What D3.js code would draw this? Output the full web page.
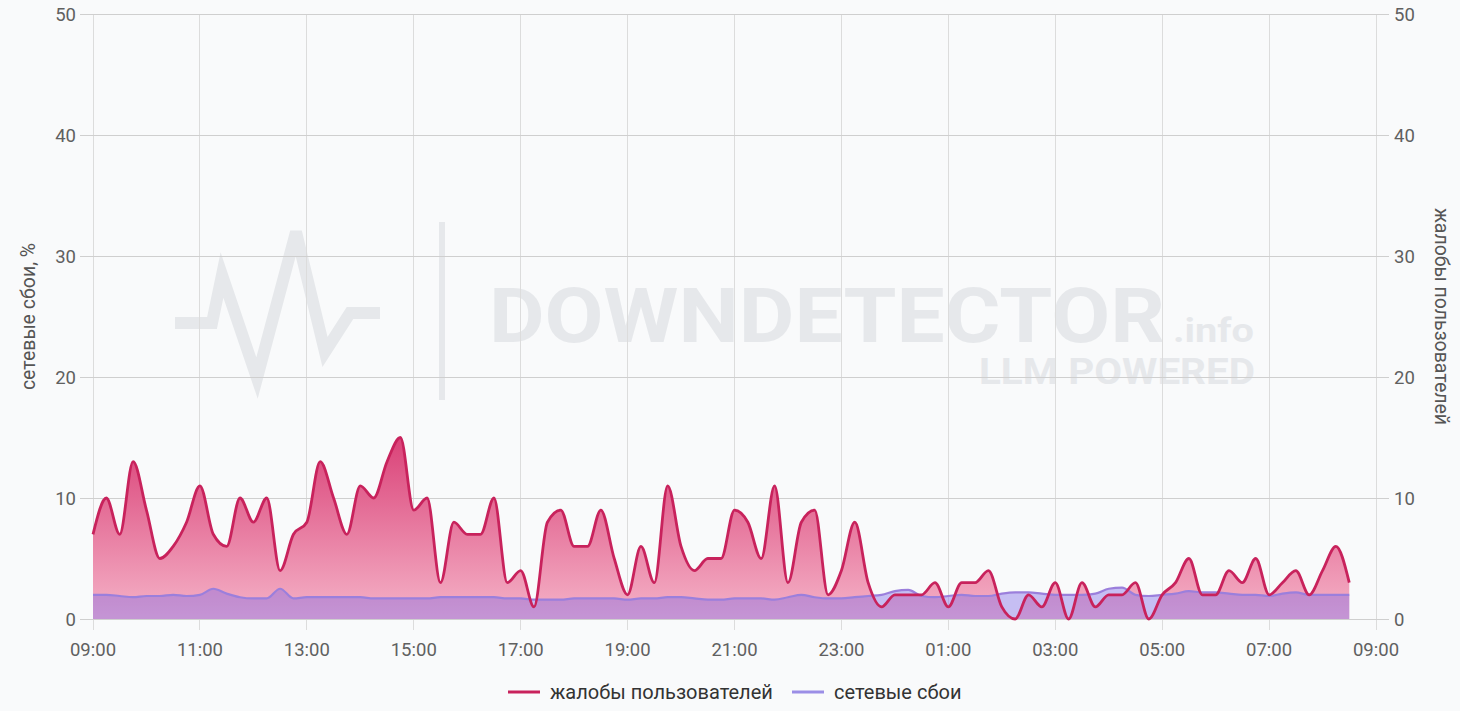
<!DOCTYPE html>
<html>
<head>
<meta charset="utf-8">
<script src="https://cdn.jsdelivr.net/npm/d3@7"></script>
<style>
  html, body { margin: 0; padding: 0; background: #f9fafb; }
  svg { display: block; font-family: Roboto, Arial, sans-serif; }
</style>
</head>
<body>
<div id="chart"></div>
<script>
// data: 15-minute samples starting 09:00
const startTime = new Date(2024, 0, 1, 9, 0);
const endTime = new Date(2024, 0, 2, 9, 0);
const stepMinutes = 15;

const complaints = [
  7, 10, 7, 13, 9, 5, 6, 8, 11, 7, 6, 10, 8, 10, 4, 7, 8, 13, 10, 7,
  11, 10, 13, 15, 9, 10, 3, 8, 7, 7, 10, 3, 4, 1, 8, 9, 6, 6, 9, 5,
  2, 6, 3, 11, 6, 4, 5, 5, 9, 8, 5, 11, 3, 8, 9, 2, 4, 8, 3, 1,
  2, 2, 2, 3, 1, 3, 3, 4, 1, 0, 2, 1, 3, 0, 3, 1, 2, 2, 3, 0,
  2, 3, 5, 2, 2, 4, 3, 5, 2, 3, 4, 2, 4, 6, 3
];
const outages = [
  2.0, 2.0, 1.9, 1.8, 1.9, 1.9, 2.0, 1.9, 2.0,
  2.5, 2.1, 1.8, 1.7, 1.7, 2.5, 1.7, 1.8, 1.8, 1.8, 1.8, 1.8, 1.7, 1.7, 1.7,
  1.7, 1.7, 1.8, 1.8, 1.8, 1.8, 1.8, 1.7, 1.7, 1.6,
  1.6, 1.6, 1.7, 1.7, 1.7, 1.7, 1.6, 1.7, 1.7, 1.8, 1.8, 1.7, 1.6, 1.6,
  1.7, 1.7, 1.7, 1.6, 1.8, 2.0, 1.8, 1.7, 1.7, 1.8, 1.9,
  2.0, 2.3, 2.4, 1.9, 1.8, 1.9, 2.0, 1.9, 1.9, 2.1, 2.2, 2.2,
  2.1, 2.0, 2.0, 2.0, 2.1, 2.5, 2.6, 2.0, 1.9, 2.0, 2.1,
  2.3, 2.2, 2.2, 2.1, 2.0, 2.0, 1.9, 2.1, 2.2, 2.0, 2.0, 2.0, 2.0
];
const yTicks = [0, 10, 20, 30, 40, 50];
const xTickHours = [0, 2, 4, 6, 8, 10, 12, 14, 16, 18, 20, 22, 24];
const leftTitle = "сетевые сбои, %";
const rightTitle = "жалобы пользователей";
const legendItems = [
  { label: "жалобы пользователей", color: "#c8225c" },
  { label: "сетевые сбои", color: "#9b8ee6" }
];

const width = 1460, height = 711;
const margin = { top: 14, right: 84, bottom: 92, left: 93 };

const svg = d3.select("#chart").append("svg")
  .attr("width", width)
  .attr("height", height);

const x = d3.scaleTime()
  .domain([startTime, endTime])
  .range([margin.left, width - margin.right]);
const y = d3.scaleLinear()
  .domain([0, 50])
  .range([height - margin.bottom, margin.top]);

const times = complaints.map((d, i) => d3.timeMinute.offset(startTime, i * stepMinutes));
const xTicks = xTickHours.map(h => d3.timeHour.offset(startTime, h));

/*
Watermark
*/
const wmColor = "#e6e8eb";
const wm = svg.append("g").attr("fill", wmColor);
wm.append("polyline")
  .attr("points", "175,323 212,323 222,275 257,378 296,232 325,352 350,313 380,313")
  .attr("fill", "none")
  .attr("stroke", wmColor)
  .attr("stroke-width", 12)
  .attr("stroke-linejoin", "miter");
wm.append("rect").attr("x", 439).attr("y", 222).attr("width", 6).attr("height", 178);
const wmText = wm.append("text").attr("font-weight", 700);
wmText.append("tspan")
  .attr("x", 489).attr("y", 342)
  .attr("font-size", 76)
  .attr("textLength", 676).attr("lengthAdjust", "spacingAndGlyphs")
  .text("DOWNDETECTOR");
wmText.append("tspan")
  .attr("x", 1173).attr("y", 342)
  .attr("font-size", 34)
  .attr("textLength", 81).attr("lengthAdjust", "spacingAndGlyphs")
  .text(".info");
wmText.append("tspan")
  .attr("x", 979).attr("y", 384)
  .attr("font-size", 37)
  .attr("textLength", 276).attr("lengthAdjust", "spacingAndGlyphs")
  .text("LLM POWERED");

/*
Grid
*/
svg.append("g").selectAll("line")
  .data(xTicks)
  .join("line")
  .attr("x1", d => x(d)).attr("x2", d => x(d))
  .attr("y1", margin.top).attr("y2", height - margin.bottom + 11)
  .attr("stroke", "#dcdcdc")
  .attr("stroke-width", 1)
  .attr("shape-rendering", "crispEdges");
svg.append("g").selectAll("line")
  .data(yTicks)
  .join("line")
  .attr("x1", margin.left - 13).attr("x2", width - margin.right + 13)
  .attr("y1", d => y(d)).attr("y2", d => y(d))
  .attr("stroke", "#cfcfcf")
  .attr("stroke-width", 1)
  .attr("shape-rendering", "crispEdges");

/*
Areas
*/
const defs = svg.append("defs");
const grad = defs.append("linearGradient")
  .attr("id", "pinkFill")
  .attr("gradientUnits", "userSpaceOnUse")
  .attr("x1", 0).attr("x2", 0)
  .attr("y1", y(d3.max(complaints))).attr("y2", y(0));
grad.append("stop").attr("offset", "0%").attr("stop-color", "#da4278");
grad.append("stop").attr("offset", "100%").attr("stop-color", "#f5b3c8");

const curve = d3.curveMonotoneX;
const area = vals => d3.area()
  .x((d, i) => x(times[i]))
  .y0(y(0))
  .y1(d => y(d))
  .curve(curve)(vals);
const line = vals => d3.line()
  .x((d, i) => x(times[i]))
  .y(d => y(d))
  .curve(curve)(vals);

svg.append("path")
  .attr("d", area(complaints))
  .attr("fill", "url(#pinkFill)");
svg.append("path")
  .attr("d", area(outages))
  .attr("fill", "rgba(128,108,232,0.42)");
svg.append("path")
  .attr("d", line(outages))
  .attr("fill", "none")
  .attr("stroke", "#9b7fdc")
  .attr("stroke-width", 2.2);
svg.append("path")
  .attr("d", line(complaints))
  .attr("fill", "none")
  .attr("stroke", "#c8225c")
  .attr("stroke-width", 2.8)
  .attr("stroke-linejoin", "round");

/*
Axes labels
*/
const tickStyle = sel => sel
  .attr("font-size", 18.5)
  .attr("fill", "#606060");
svg.append("g").selectAll("text")
  .data(yTicks)
  .join("text")
  .attr("x", margin.left - 17)
  .attr("y", d => y(d) + 7)
  .attr("text-anchor", "end")
  .call(tickStyle)
  .text(d => d);
svg.append("g").selectAll("text")
  .data(yTicks)
  .join("text")
  .attr("x", width - margin.right + 18)
  .attr("y", d => y(d) + 7)
  .attr("text-anchor", "start")
  .call(tickStyle)
  .text(d => d);
svg.append("g").selectAll("text")
  .data(xTicks)
  .join("text")
  .attr("x", d => x(d))
  .attr("y", height - margin.bottom + 37)
  .attr("text-anchor", "middle")
  .call(tickStyle)
  .text(d3.timeFormat("%H:%M"));

const midY = (y(0) + y(50)) / 2;
svg.append("text")
  .attr("transform", `translate(35,${midY}) rotate(-90)`)
  .attr("text-anchor", "middle")
  .attr("font-size", 19.5)
  .attr("fill", "#555")
  .text(leftTitle);
svg.append("text")
  .attr("transform", `translate(1435,${midY}) rotate(90)`)
  .attr("text-anchor", "middle")
  .attr("font-size", 19.5)
  .attr("fill", "#555")
  .text(rightTitle);

/*
Legend
*/
const legend = svg.append("g").attr("transform", "translate(0,692)");
const legendX = [508, 792];
legendItems.forEach((item, i) => {
  const g = legend.append("g").attr("transform", `translate(${legendX[i]},0)`);
  g.append("line")
    .attr("x1", 0).attr("x2", 32)
    .attr("y1", 0).attr("y2", 0)
    .attr("stroke", item.color)
    .attr("stroke-width", 3);
  g.append("text")
    .attr("x", 42).attr("y", 7)
    .attr("font-size", 20)
    .attr("fill", "#333")
    .text(item.label);
});
</script>
</body>
</html>
